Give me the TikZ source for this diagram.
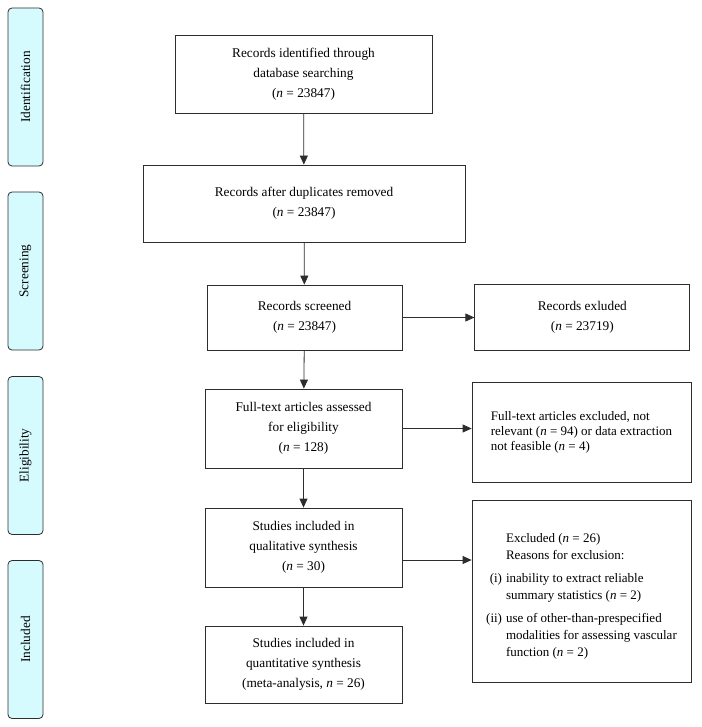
\documentclass[tikz,border=0pt]{standalone}
\usepackage{fontspec}
\setmainfont{Liberation Serif}
\usetikzlibrary{arrows.meta}
\usetikzlibrary{positioning}

\definecolor{phasecyan}{RGB}{214,251,255}
\definecolor{linegray}{RGB}{45,45,45}

\begin{document}
\begin{tikzpicture}[
	x = 1pt, y = -1pt, % picture measured in pixels, top down
	> = {Triangle[length=9pt, width=8pt]}, % arrow head style
	line width = 0.8pt, % line style
	draw = linegray,
	font = \fontsize{13.3}{20}\selectfont
	]
	
	\tikzstyle{box}=[
	draw = linegray,
	fill = white,
	align = center,
	inner sep = 2pt
	]
	
	\tikzstyle{phase}=[
	draw = linegray,
	fill = phasecyan,
	rounded corners = 4pt,
	minimum width = 158pt,
	minimum height = 35pt,
	rotate = 90
	]
	
	\useasboundingbox (0,0) rectangle (701,727);
	
	% phases on the left
	\node[phase] (pident) at (25.5,87) {Identification};
	\node[phase] (pscreen) at (25.5,271) {Screening};
	\node[phase] (pelig) at (25.5,455.5) {Eligibility};
	\node[phase] (pincl) at (25.5,639.5) {Included};
	
	% main column
	\node[box, minimum width=257pt, minimum height=78pt] (ident) at (303.5,74)
		{Records identified through\\database searching\\(\textit{n} = 23847)};
	\node[box, minimum width=322pt, minimum height=77pt] (dup) at (304,203.5)
		{Records after duplicates removed\\(\textit{n} = 23847)};
	\node[box, minimum width=195pt, minimum height=65pt] (screen) at (304.5,317.5)
		{Records screened\\(\textit{n} = 23847)};
	\node[box, minimum width=197pt, minimum height=79pt] (full) at (303.5,428.5)
		{Full-text articles assessed\\for eligibility\\(\textit{n} = 128)};
	\node[box, minimum width=197pt, minimum height=79pt] (qual) at (303.5,547.5)
		{Studies included in\\qualitative synthesis\\(\textit{n} = 30)};
	\node[box, minimum width=197pt, minimum height=77pt] (quant) at (303.5,664.5)
		{Studies included in\\quantitative synthesis\\(meta-analysis, \textit{n} = 26)};
	
	% exclusions on the right
	\node[box, minimum width=215pt, minimum height=66pt] (recexcl) [right=72pt of screen]
		{Records exluded\\(\textit{n} = 23719)};
	\node[box, minimum width=219pt, minimum height=100pt, align=left,
		font=\fontsize{13}{15}\selectfont] (fullexcl) at (581.5,432)
		{Full-text articles excluded, not\\relevant (\textit{n} = 94) or data extraction\\not feasible (\textit{n} = 4)};
	\node[box, minimum width=219pt, minimum height=182pt,
		font=\fontsize{13}{17}\selectfont] (studexcl) at (581.5,591)
		{\raisebox{-5pt}[\height][\depth]{\begin{tabular}{@{}r@{\hspace{4pt}}l@{}}
		& Excluded (\textit{n} = 26)\\
		& Reasons for exclusion:\\[6pt]
		(i) & inability to extract reliable\\
		& summary statistics (\textit{n} = 2)\\[6pt]
		(ii) & use of other-than-prespecified\\
		& modalities for assessing vascular\\
		& function (\textit{n} = 2)
		\end{tabular}}};
	
	\draw[->] (ident) -- (dup);
	\draw[->] (dup) -- (screen);
	\draw[->] (screen) -- (full);
	\draw[->] (full) -- (qual);
	\draw[->] (qual) -- (quant);
	
	\draw[->] (screen) -- (recexcl);
	\draw[->] (full.east) -- (full.east -| fullexcl.west);
	\draw[->] ([yshift=-12.5pt]qual.east) -- ([yshift=-12.5pt]qual.east -| studexcl.west);
	
\end{tikzpicture}
\end{document}
